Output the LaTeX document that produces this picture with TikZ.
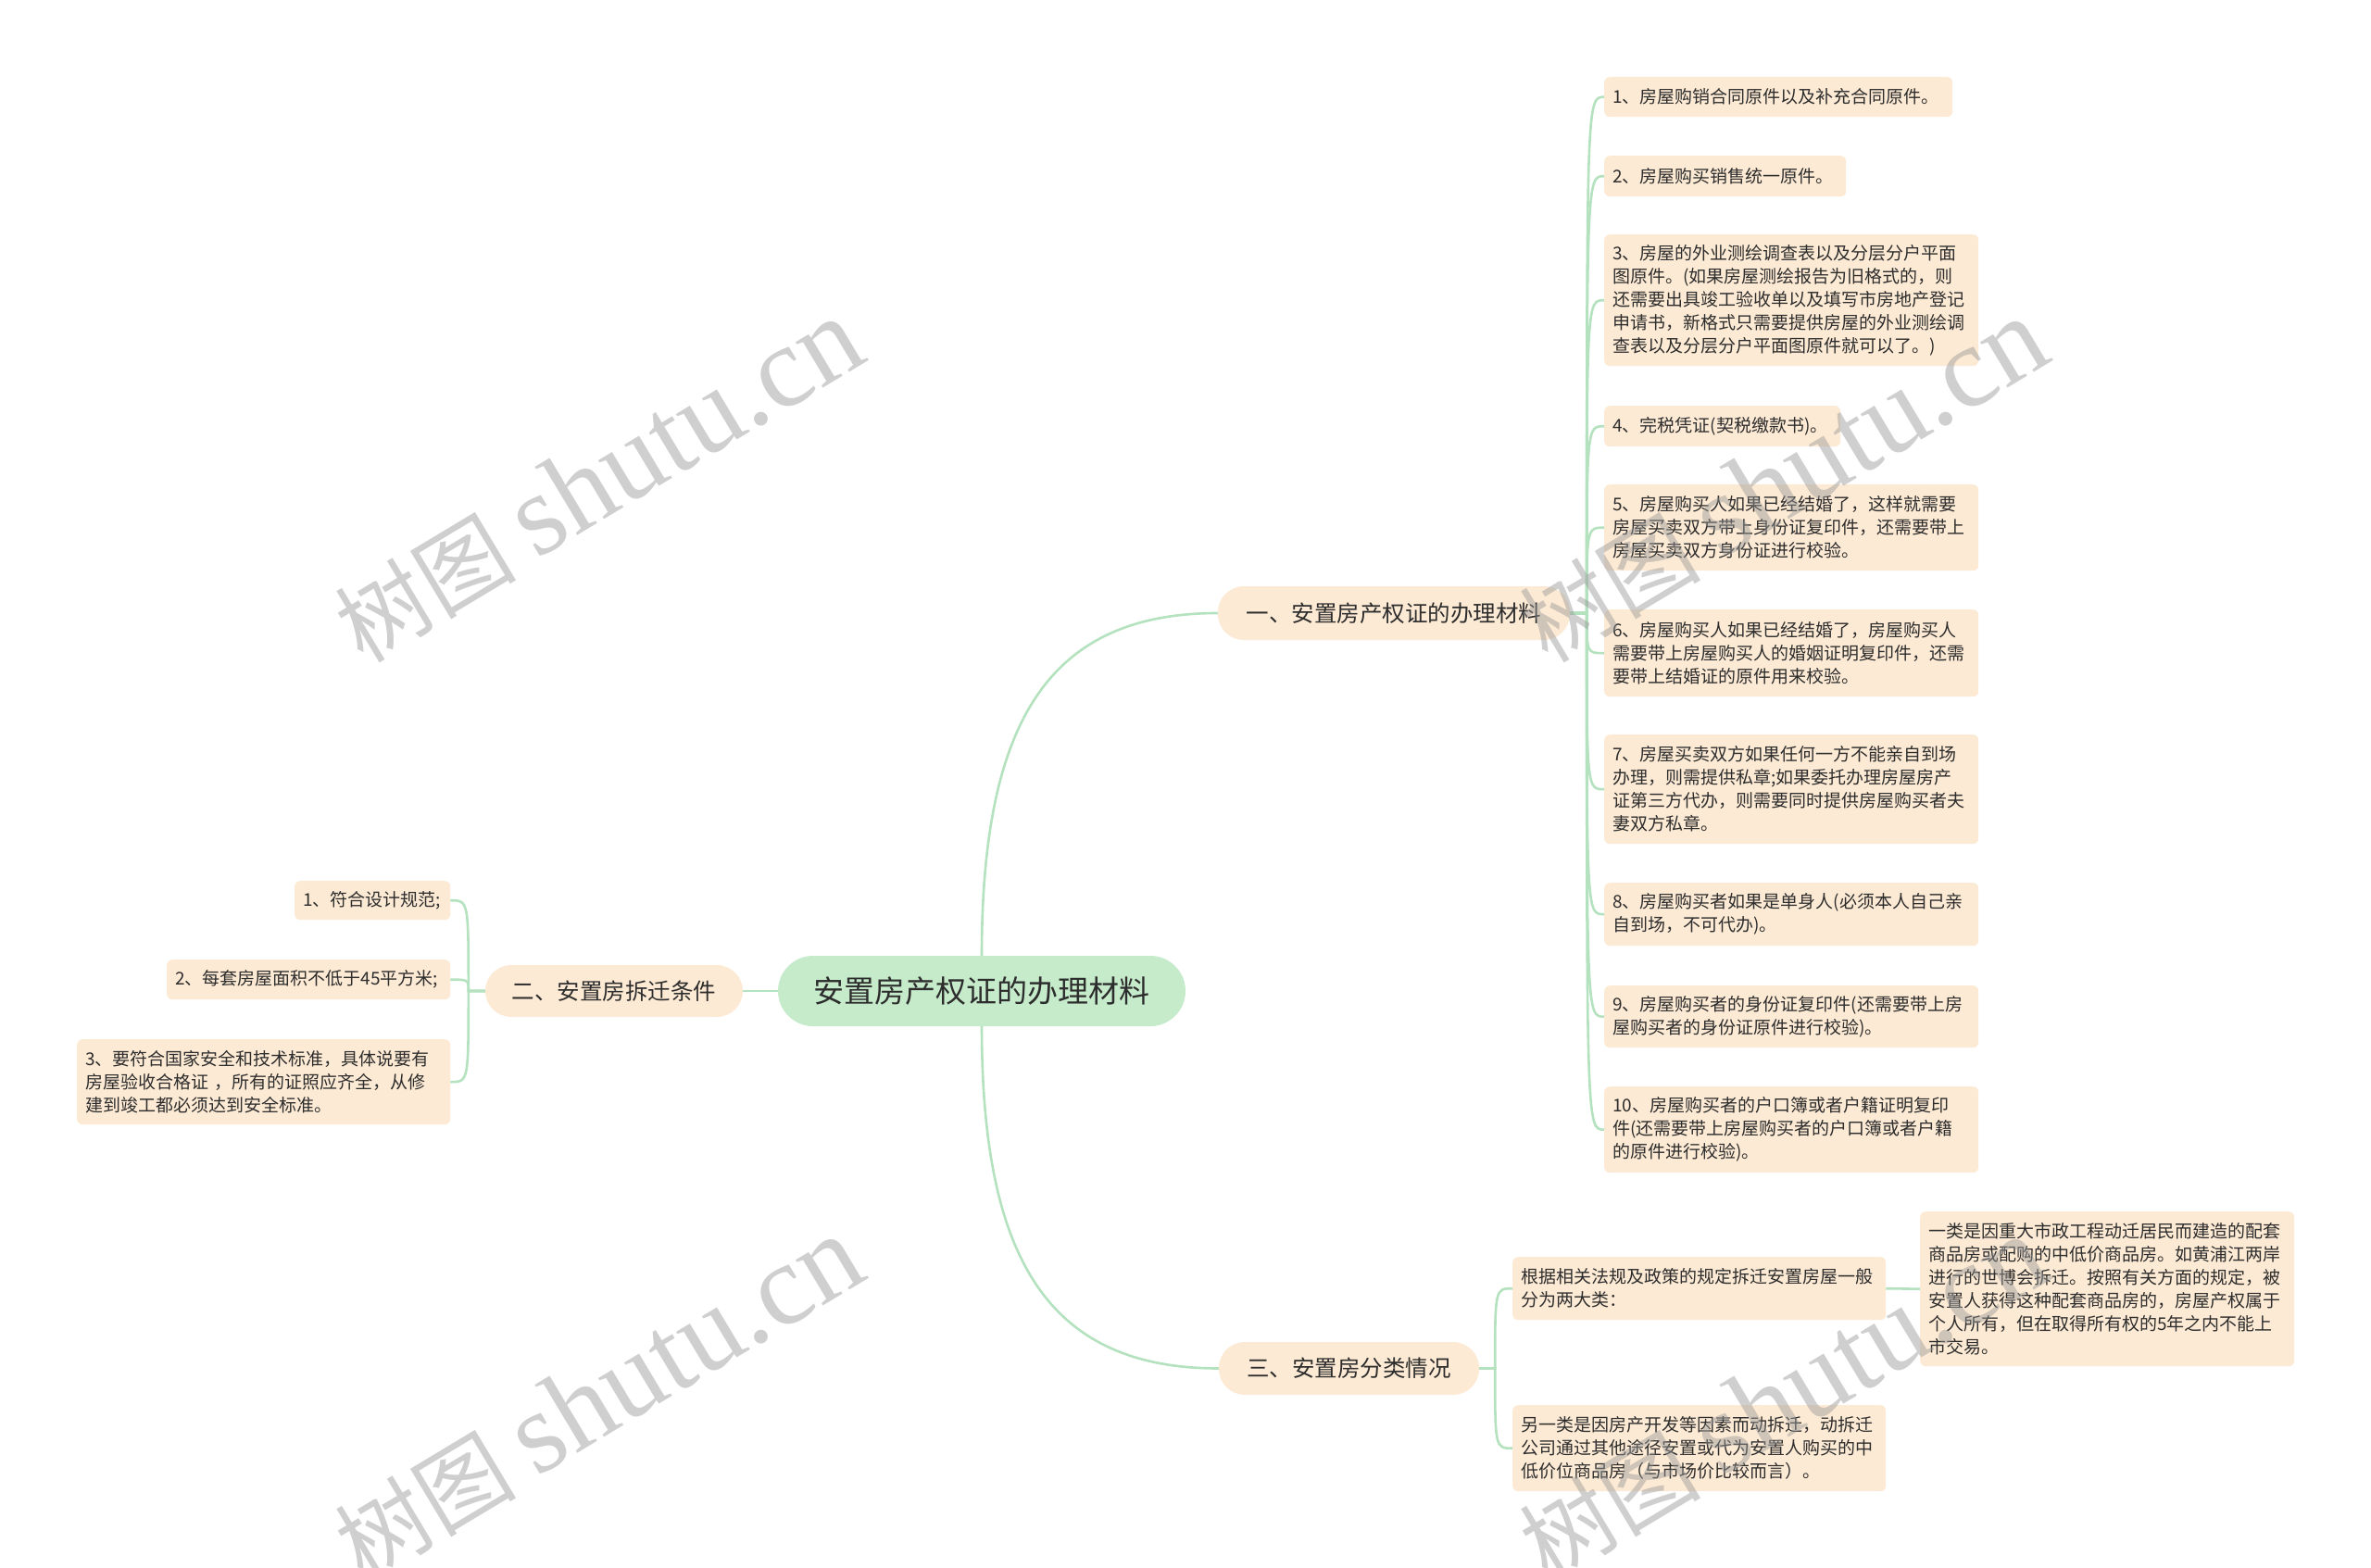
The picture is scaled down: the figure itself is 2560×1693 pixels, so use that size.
\documentclass[tikz,border=0pt]{standalone}
\usepackage{fontspec}
\setmainfont{Noto Sans CJK SC}
\newfontfamily\wmserif{Liberation Serif}
\usetikzlibrary{calc}
\definecolor{peach}{RGB}{253,234,212}
\definecolor{centergreen}{RGB}{198,235,203}
\definecolor{linkc}{RGB}{180,226,191}
\definecolor{txt}{RGB}{45,45,45}
\definecolor{wmgray}{RGB}{150,150,150}
\begin{document}
\begin{tikzpicture}[x=1pt,y=-1pt,
  leaf/.style={fill=peach, rounded corners=6pt, anchor=north west, align=left,
    inner xsep=9pt, inner ysep=2pt, font=\fontsize{19}{25}\selectfont, text=txt},
  branch/.style={fill=peach, rounded corners=28pt, inner sep=0pt,
    font=\fontsize{24.5}{28}\selectfont, text=txt},
  root/.style={fill=centergreen, rounded corners=38pt, inner sep=0pt,
    font=\fontsize{33}{38}\selectfont, text=txt},
  link/.style={draw=linkc, line width=2.6pt},
  wm/.style={rotate=31, text=wmgray, opacity=0.45, inner sep=0pt}
]
\fill[white] (0,0) rectangle (2560,1693);
\useasboundingbox (0,0) rectangle (2560,1693);

% central topic
\node[root, minimum width=440pt, minimum height=76pt] (c) at (1060,1070) {安置房产权证的办理材料};

% main branches
\node[branch, minimum width=380pt, minimum height=58pt] (b1) at (1505,662) {一、安置房产权证的办理材料};
\node[branch, minimum width=278pt, minimum height=56pt] (b2) at (663,1070) {二、安置房拆迁条件};
\node[branch, minimum width=281pt, minimum height=57pt] (b3) at (1456.5,1477.5) {三、安置房分类情况};

% branch 1 leaves
\node[leaf, text width=358pt, minimum height=43pt] (r1) at (1732,83) {1、房屋购销合同原件以及补充合同原件。};
\node[leaf, text width=243pt, minimum height=44pt] (r2) at (1732,168) {2、房屋购买销售统一原件。};
\node[leaf, text width=386pt, minimum height=142pt] (r3) at (1732,253) {3、房屋的外业测绘调查表以及分层分户平面\\图原件。(如果房屋测绘报告为旧格式的，则\\还需要出具竣工验收单以及填写市房地产登记\\申请书，新格式只需要提供房屋的外业测绘调\\查表以及分层分户平面图原件就可以了。)};
\node[leaf, text width=237pt, minimum height=44pt] (r4) at (1732,438) {4、完税凭证(契税缴款书)。};
\node[leaf, text width=386pt, minimum height=93pt] (r5) at (1732,523) {5、房屋购买人如果已经结婚了，这样就需要\\房屋买卖双方带上身份证复印件，还需要带上\\房屋买卖双方身份证进行校验。};
\node[leaf, text width=386pt, minimum height=94pt] (r6) at (1732,658) {6、房屋购买人如果已经结婚了，房屋购买人\\需要带上房屋购买人的婚姻证明复印件，还需\\要带上结婚证的原件用来校验。};
\node[leaf, text width=386pt, minimum height=118pt] (r7) at (1732,793) {7、房屋买卖双方如果任何一方不能亲自到场\\办理，则需提供私章;如果委托办理房屋房产\\证第三方代办，则需要同时提供房屋购买者夫\\妻双方私章。};
\node[leaf, text width=386pt, minimum height=68pt] (r8) at (1732,953) {8、房屋购买者如果是单身人(必须本人自己亲\\自到场，不可代办)。};
\node[leaf, text width=386pt, minimum height=67pt] (r9) at (1732,1064) {9、房屋购买者的身份证复印件(还需要带上房\\屋购买者的身份证原件进行校验)。};
\node[leaf, text width=386pt, minimum height=93pt] (r10) at (1732,1173) {10、房屋购买者的户口簿或者户籍证明复印\\件(还需要带上房屋购买者的户口簿或者户籍\\的原件进行校验)。};

% branch 2 leaves
\node[leaf, text width=150pt, minimum height=42pt] (l1) at (318,951) {1、符合设计规范;};
\node[leaf, text width=288pt, minimum height=43pt] (l2) at (180,1036) {2、每套房屋面积不低于45平方米;};
\node[leaf, text width=385pt, minimum height=92pt] (l3) at (83,1122) {3、要符合国家安全和技术标准，具体说要有\\房屋验收合格证 ，所有的证照应齐全，从修\\建到竣工都必须达到安全标准。};

% branch 3 children
\node[leaf, text width=385pt, minimum height=68pt] (k1) at (1633,1357) {根据相关法规及政策的规定拆迁安置房屋一般\\分为两大类：};
\node[leaf, text width=385pt, minimum height=93pt] (k2) at (1633,1517) {另一类是因房产开发等因素而动拆迁，动拆迁\\公司通过其他途径安置或代为安置人购买的中\\低价位商品房（与市场价比较而言）。};
\node[leaf, text width=386pt, minimum height=167pt] (g1) at (2073,1308) {一类是因重大市政工程动迁居民而建造的配套\\商品房或配购的中低价商品房。如黄浦江两岸\\进行的世博会拆迁。按照有关方面的规定，被\\安置人获得这种配套商品房的，房屋产权属于\\个人所有，但在取得所有权的5年之内不能上\\市交易。};

% junctions
\coordinate (j1) at ($(b1.east)+(18,0)$);
\coordinate (j2) at ($(b2.west)+(-18,0)$);
\coordinate (j3) at ($(b3.east)+(17,0)$);
\coordinate (k) at (c.north |- b1.west);
\coordinate (kk) at (c.south |- b3.west);

% connectors: root to branches
\draw[link] (c.north) .. controls ($(c.north)!0.68!(k)$) and ($(b1.west)!0.72!(k)$) .. (b1.west);
\draw[link] (c.south) .. controls ($(c.south)!0.68!(kk)$) and ($(b3.west)!0.72!(kk)$) .. (b3.west);
\draw[link] (c.west) -- (b2.east);

% branch 1 to leaves
\foreach \n in {r1,r2,r3,r4,r5,r6,r7,r8,r9,r10}{
  \draw[link] (b1.east) -- (j1) .. controls (j1 |- \n.west) .. (\n.west);
}
% branch 2 to leaves
\foreach \n in {l1,l2,l3}{
  \draw[link] (b2.west) -- (j2) .. controls (j2 |- \n.east) .. (\n.east);
}
% branch 3 to children
\foreach \n in {k1,k2}{
  \draw[link] (b3.east) -- (j3) .. controls (j3 |- \n.west) .. (\n.west);
}
\draw[link] (k1.east) -- (g1.west);

% watermarks
\node[wm] (w1) at (646,519) {\fontsize{98}{100}\selectfont 树图 {\wmserif\fontsize{125}{127}\selectfont shutu.cn}};
\node[wm] (w2) at (646,1510) {\fontsize{98}{100}\selectfont 树图 {\wmserif\fontsize{125}{127}\selectfont shutu.cn}};
\node[wm] (w3) at (1925,519) {\fontsize{98}{100}\selectfont 树图 {\wmserif\fontsize{125}{127}\selectfont shutu.cn}};
\node[wm] (w4) at (1925,1510) {\fontsize{98}{100}\selectfont 树图 {\wmserif\fontsize{125}{127}\selectfont shutu.cn}};
\end{tikzpicture}
\end{document}
